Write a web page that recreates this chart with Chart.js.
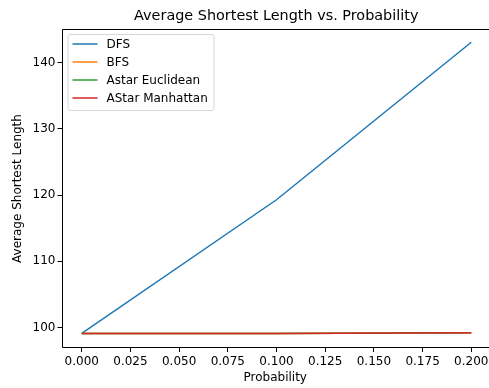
<!DOCTYPE html>
<html>
<head>
<meta charset="utf-8">
<script src="https://cdn.jsdelivr.net/npm/chart.js@4"></script>
<style>
  html, body { margin: 0; padding: 0; background: #fff; }
  #wrap { width: 489px; height: 388px; }
</style>
</head>
<body>
<div id="wrap"><canvas id="chart" width="489" height="388"></canvas></div>
<script>
// data
const probs = [0.0, 0.1, 0.2];
const dfsVals = [99.1, 119.3, 143.1];
const bfsVals = [99.1, 99.1, 99.2];
const euclidVals = [99.1, 99.1, 99.2];
const manhattanVals = [99.1, 99.1, 99.2];
const xTicks = [0, 0.025, 0.05, 0.075, 0.1, 0.125, 0.15, 0.175, 0.2];
const yTicks = [100, 110, 120, 130, 140];
const chartTitle = "Average Shortest Length vs. Probability";

const FONT = "'DejaVu Sans', sans-serif";
const pts = vals => vals.map((v, i) => ({ x: probs[i], y: v }));

// matplotlib style title, legend box and axes frame
const mplPlugin = {
  id: "mpl",
  afterDatasetsDraw(chart) {
    const ctx = chart.ctx;
    const a = chart.chartArea;
    const L = Math.round(a.left) + 0.5, T = Math.round(a.top) + 0.5;
    const B = Math.round(a.bottom) - 0.5;
    ctx.save();
    // frame: the right spine is cut off by the image edge in the original
    ctx.strokeStyle = "#000";
    ctx.lineWidth = 1;
    ctx.beginPath();
    ctx.moveTo(a.right + 1, T);
    ctx.lineTo(L, T);
    ctx.lineTo(L, B);
    ctx.lineTo(a.right + 1, B);
    ctx.stroke();

    // title centred over the (uncropped) axes
    ctx.fillStyle = "#000";
    ctx.font = "14.4px " + FONT;
    ctx.textAlign = "center";
    ctx.textBaseline = "middle";
    ctx.fillText(chartTitle, (a.left + a.right) / 2 + 1, 16);

    // legend, datasets in original order
    const sets = chart.data.datasets;
    const x0 = a.left + 6, y0 = a.top + 5;
    const rowH = 18, w = 146, h = 76;
    ctx.fillStyle = "rgba(255,255,255,0.8)";
    ctx.strokeStyle = "#d6d6d6";
    ctx.beginPath();
    ctx.roundRect(x0 + 0.5, y0 + 0.5, w, h, 2);
    ctx.fill();
    ctx.stroke();
    ctx.font = "12px " + FONT;
    ctx.textAlign = "left";
    sets.forEach((ds, i) => {
      const cy = y0 + 10 + i * rowH;
      ctx.strokeStyle = ds.borderColor;
      ctx.lineWidth = 1.5;
      ctx.beginPath();
      ctx.moveTo(x0 + 5, cy);
      ctx.lineTo(x0 + 30, cy);
      ctx.stroke();
      ctx.fillStyle = "#000";
      ctx.fillText(ds.label, x0 + 39, cy + 1);
    });
    ctx.restore();
  }
};

// order: later series drawn on top, like matplotlib
const lineDs = (label, vals, color, order) => ({
  label, data: pts(vals), borderColor: color, backgroundColor: color,
  borderWidth: 1.5, pointRadius: 0, tension: 0, fill: false, order
});

new Chart(document.getElementById("chart"), {
  type: "line",
  data: {
    datasets: [
      lineDs("DFS", dfsVals, "#1f77b4", 3),
      lineDs("BFS", bfsVals, "#ff7f0e", 2),
      lineDs("Astar Euclidean", euclidVals, "#2ca02c", 1),
      lineDs("AStar Manhattan", manhattanVals, "#d62728", 0)
    ]
  },
  options: {
    responsive: false,
    animation: false,
    layout: { padding: { left: 0, right: 0, top: 29, bottom: 0 } },
    plugins: {
      legend: { display: false },
      tooltip: { enabled: false },
      title: { display: false }
    },
    scales: {
      x: {
        type: "linear",
        min: -0.0104, max: 0.2091,
        afterBuildTicks: s => { s.ticks = xTicks.map(v => ({ value: v })); },
        afterFit: s => { s.height = 40; s.paddingRight = 0; s.paddingLeft = 0; },
        ticks: {
          color: "#000", font: { family: FONT, size: 12 }, padding: 3,
          maxRotation: 0, autoSkip: false,
          callback: v => v.toFixed(3)
        },
        grid: { drawOnChartArea: false, drawTicks: true, tickLength: 4, color: "#000" },
        border: { display: false },
        title: { display: true, text: "Probability", color: "#000",
          font: { family: FONT, size: 12 }, padding: { top: 0, bottom: 2.8 } }
      },
      y: {
        type: "linear",
        min: 96.9, max: 145.1,
        afterBuildTicks: s => { s.ticks = yTicks.map(v => ({ value: v })); },
        afterFit: s => { s.width = 61.5; },
        ticks: { color: "#000", font: { family: FONT, size: 12 }, padding: 2 },
        grid: { drawOnChartArea: false, drawTicks: true, tickLength: 4, color: "#000" },
        border: { display: false },
        title: { display: true, text: "Average Shortest Length", color: "#000",
          font: { family: FONT, size: 12 }, padding: { top: 10.8, bottom: 0 } }
      }
    }
  },
  plugins: [mplPlugin]
});
</script>
</body>
</html>
